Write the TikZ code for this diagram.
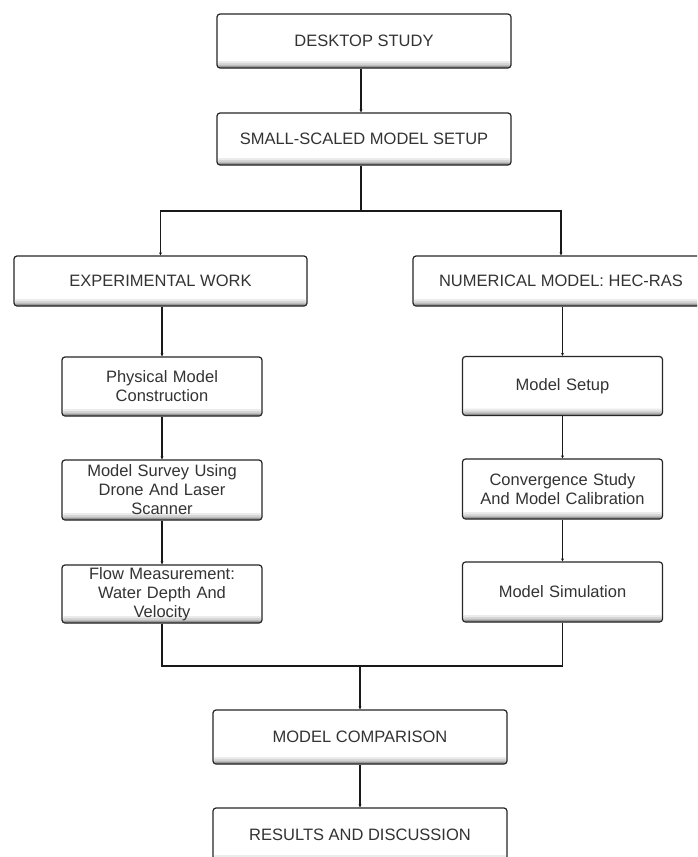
\documentclass[tikz,border=0pt]{standalone}
\usepackage{fontspec}
\setmainfont{Liberation Sans}
\usetikzlibrary{arrows.meta,calc}
\begin{document}
\begin{tikzpicture}[x=1pt,y=-1pt,
  box/.style={draw=black!85, line width=1.2pt, rounded corners=3pt, fill=white,
    align=center, inner sep=2pt, text=black!80,
    font=\fontsize{16.5pt}{19pt}\selectfont,
    path picture={
      \fill[black!8] ([yshift=7pt]path picture bounding box.south west) rectangle (path picture bounding box.south east);
      \fill[black!16] ([yshift=5pt]path picture bounding box.south west) rectangle (path picture bounding box.south east);
      \fill[black!26] ([yshift=3.2pt]path picture bounding box.south west) rectangle (path picture bounding box.south east);
      \fill[black!40] ([yshift=1.8pt]path picture bounding box.south west) rectangle (path picture bounding box.south east);}},
  wide/.style={box, minimum width=294pt, minimum height=53pt},
  narrow/.style={box, text width=194pt, minimum width=200pt, minimum height=59pt},
  conn/.style={draw=black!90, line width=1.2pt},
  arr/.style={conn, -{Stealth[length=3pt,width=3pt]}}]
\useasboundingbox (0,0) rectangle (697,857);
\fill[white] (0,0) rectangle (697,857);
\clip (0,0) rectangle (697,857);

\node[wide, minimum height=54pt] (desk) at (364,41) {DESKTOP STUDY};
\node[wide, minimum height=52pt] (small) at (364,139) {SMALL-SCALED MODEL SETUP};
\node[wide, minimum width=293pt, minimum height=50pt] (exp) at (160.5,281) {EXPERIMENTAL WORK};
\node[wide, minimum width=296pt, minimum height=50pt] (num) at (561,281) {NUMERICAL MODEL: HEC-RAS};

\node[narrow] (phys) at (162,386.5) {Physical Model\\Construction};
\node[narrow, minimum height=60pt] (surv) at (162,490) {Model Survey Using\\Drone And Laser\\Scanner};
\node[narrow, minimum height=58pt] (flow) at (162,594) {Flow Measurement:\\Water Depth And\\Velocity};

\node[narrow] (setup) at (562.5,386) {Model Setup};
\node[narrow, minimum height=60pt] (conv) at (562.5,489) {Convergence Study\\And Model Calibration};
\node[narrow, minimum height=60pt] (sim) at (562.5,592) {Model Simulation};

\node[wide, minimum height=54pt] (comp) at (360,737) {MODEL COMPARISON};
\node[wide, minimum height=54pt] (res) at (360,835) {RESULTS AND DISCUSSION};

\coordinate (split) at (361,211);
\coordinate (join) at (360,666);

\draw[arr] (desk.south -| split) -- (small.north -| split);
\draw[conn] (small.south -| split) -- (split);
\draw[arr] (split) -| (exp.north);
\draw[arr] (split) -| (num.north);

\draw[arr] (exp.south -| phys) -- (phys.north);
\draw[arr] (phys) -- (surv);
\draw[arr] (surv) -- (flow);

\draw[arr] (num.south -| setup) -- (setup.north);
\draw[arr] (setup) -- (conv);
\draw[arr] (conv) -- (sim);

\draw[conn] (flow.south) |- (join);
\draw[conn] (sim.south) |- (join);
\draw[arr] (join) -- (comp.north -| join);
\draw[arr] (comp.south -| join) -- (res.north -| join);
\end{tikzpicture}
\end{document}
